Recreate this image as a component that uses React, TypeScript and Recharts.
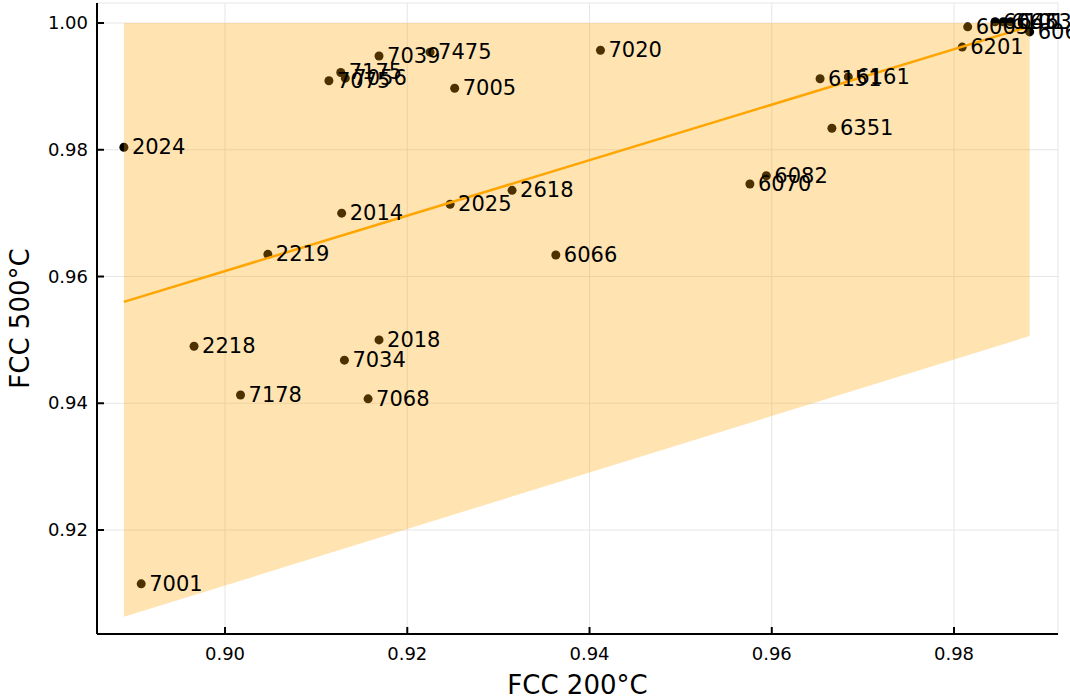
import React from 'react'
import { ComposedChart, Scatter, Area, Line, XAxis, YAxis, CartesianGrid, LabelList } from 'recharts'

// alloy designations and their FCC fractions at 200°C / 500°C
const alloys = ['2024', '7001', '2218', '7178', '2219', '2014', '7034', '2018', '7068', '2025', '2618', '6066', '7020', '7005', '7039', '7475', '7175', '7075', '7056', '6151', '6161', '6351', '6082', '6070', '6201', '6005', '6063', '6101', '6463', '6060']
const fcc200 = [0.8889, 0.8908, 0.8966, 0.9017, 0.9047, 0.9128, 0.9131, 0.9169, 0.9157, 0.9247, 0.9315, 0.9363, 0.9412, 0.9252, 0.9169, 0.9225, 0.9127, 0.9114, 0.9132, 0.9653, 0.9684, 0.9666, 0.9594, 0.9576, 0.9809, 0.9815, 0.9845, 0.9854, 0.9862, 0.9883]
const fcc500 = [0.9804, 0.9115, 0.949, 0.9413, 0.9635, 0.97, 0.9468, 0.95, 0.9407, 0.9714, 0.9736, 0.9634, 0.9957, 0.9897, 0.9948, 0.9954, 0.9922, 0.9909, 0.9913, 0.9912, 0.9915, 0.9834, 0.9759, 0.9746, 0.9962, 0.9994, 1.0002, 1.0002, 1.0002, 0.9986]

// fit line and band ends
const fitX = [0.8889, 0.9883]
const fitY = [0.956, 0.9995]
const bandLow = [0.9063, 0.9506]
const bandHigh = [1.0, 1.0]

const xTicks = [0.9, 0.92, 0.94, 0.96, 0.98]
const yTicks = [0.92, 0.94, 0.96, 0.98, 1.0]

const points = alloys.map((name, i) => ({ name, x: fcc200[i], y: fcc500[i] }))
const fitData = fitX.map((x, i) => ({ x, y: fitY[i] }))
const bandData = fitX.map((x, i) => ({ x, band: [bandLow[i], bandHigh[i]] }))

const FONT = '"DejaVu Sans", sans-serif'

function XTick({ x, y, payload }: any) {
  return (
    <g>
      <line x1={x} x2={x} y1={y} y2={y - 7} stroke="#000" strokeWidth={2} />
      <text x={x} y={y + 26} textAnchor="middle" fontSize={18} fontFamily={FONT} fill="#000">
        {Number(payload.value).toFixed(2)}
      </text>
    </g>
  )
}

function YTick({ x, y, payload }: any) {
  return (
    <g>
      <line x1={x} x2={x + 7} y1={y} y2={y} stroke="#000" strokeWidth={2} />
      <text x={x - 9} y={y + 6} textAnchor="end" fontSize={18} fontFamily={FONT} fill="#000">
        {Number(payload.value).toFixed(2)}
      </text>
    </g>
  )
}

export default function App() {
  return (
    <div style={{ position: 'absolute', left: 0, top: 0, width: 1070, height: 699, background: '#fff' }}>
      <ComposedChart width={1070} height={699} margin={{ top: 3, right: 12, bottom: 0, left: 0 }}>
        <CartesianGrid stroke="#e6e6e6" strokeWidth={1} />
        <XAxis
          type="number"
          dataKey="x"
          domain={[0.88595, 0.99141]}
          ticks={xTicks}
          height={65}
          tickSize={0}
          tickMargin={0}
          tick={<XTick />}
          axisLine={{ stroke: '#000', strokeWidth: 2 }}
          allowDataOverflow
          label={{ value: 'FCC 200°C', position: 'insideBottom', offset: 5, fontSize: 26, fontFamily: FONT, fill: '#000' }}
        />
        <YAxis
          type="number"
          dataKey="y"
          domain={[0.90359, 1.00316]}
          ticks={yTicks}
          width={97}
          tickSize={0}
          tickMargin={0}
          tick={<YTick />}
          axisLine={{ stroke: '#000', strokeWidth: 2 }}
          allowDataOverflow
          label={{ value: 'FCC 500°C', angle: -90, position: 'insideLeft', offset: 20, fontSize: 26, fontFamily: FONT, fill: '#000', style: { textAnchor: 'middle' } }}
        />
        <Scatter
          data={points}
          zIndex={50}
          isAnimationActive={false}
          shape={(p: any) => <circle cx={p.cx} cy={p.cy} r={4.5} fill="#000" />}
        />
        <Area
          data={bandData}
          dataKey="band"
          type="linear"
          fill="#FFA500"
          fillOpacity={0.3}
          stroke="none"
          zIndex={100}
          isAnimationActive={false}
        />
        <Line
          data={fitData}
          dataKey="y"
          type="linear"
          stroke="#FFA500"
          strokeWidth={2.5}
          dot={false}
          zIndex={400}
          isAnimationActive={false}
        />
        <Scatter data={points} zIndex={700} isAnimationActive={false} shape={() => <g />}>
          <LabelList
            dataKey="name"
            content={(p: any) => (
              <text x={p.x + p.width / 2 + 8} y={p.y + p.height / 2 + 7} fontSize={21} fontFamily={FONT} fill="#000">
                {p.value}
              </text>
            )}
          />
        </Scatter>
      </ComposedChart>
    </div>
  )
}
